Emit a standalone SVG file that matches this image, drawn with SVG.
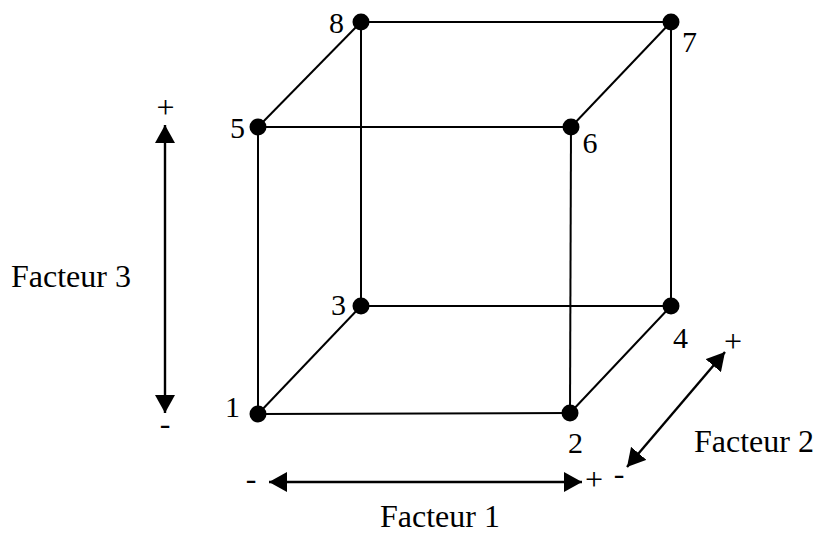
<svg xmlns="http://www.w3.org/2000/svg" width="817" height="534" viewBox="0 0 817 534">
  <style>
    .edge { stroke: #000; stroke-width: 2; fill: none; }
    .axis { stroke: #000; stroke-width: 2.4; fill: none; }
    .pt { fill: #000; }
    text { font-family: "Liberation Serif", "Times New Roman", serif; font-size: 30px; fill: #000; }
    .lbl { font-size: 32px; }
    .sign { font-size: 32px; }
  </style>
  <defs>
    <marker id="head" markerUnits="userSpaceOnUse" markerWidth="20" markerHeight="20" viewBox="0 0 20 20" refX="18" refY="10" orient="auto-start-reverse">
      <path d="M0,0 L18,10 L0,20 Z" fill="#000"/>
    </marker>
  </defs>

  <!-- cube edges -->
  <g id="edges">
    <line class="edge" x1="258" y1="127" x2="571" y2="127"/>
    <line class="edge" x1="361" y1="22" x2="671" y2="22"/>
    <line class="edge" x1="258" y1="414" x2="570" y2="413"/>
    <line class="edge" x1="361" y1="306" x2="671" y2="306"/>
    <line class="edge" x1="258" y1="127" x2="258" y2="414"/>
    <line class="edge" x1="361" y1="22" x2="361" y2="306"/>
    <line class="edge" x1="671" y1="22" x2="671" y2="306"/>
    <line class="edge" x1="571" y1="127" x2="570" y2="413"/>
    <line class="edge" x1="258" y1="127" x2="361" y2="22"/>
    <line class="edge" x1="571" y1="127" x2="671" y2="22"/>
    <line class="edge" x1="258" y1="414" x2="361" y2="306"/>
    <line class="edge" x1="570" y1="413" x2="671" y2="306"/>
  </g>

  <!-- cube vertices -->
  <g id="n1"><circle class="pt" cx="258" cy="414" r="8.5"/><text x="240" y="417" text-anchor="end">1</text></g>
  <g id="n2"><circle class="pt" cx="570" cy="413" r="8.5"/><text x="575.5" y="453" text-anchor="middle">2</text></g>
  <g id="n3"><circle class="pt" cx="361" cy="306" r="8.5"/><text x="346" y="315" text-anchor="end">3</text></g>
  <g id="n4"><circle class="pt" cx="671" cy="306" r="8.5"/><text x="680.5" y="348" text-anchor="middle">4</text></g>
  <g id="n5"><circle class="pt" cx="258" cy="127" r="8.5"/><text x="245" y="138" text-anchor="end">5</text></g>
  <g id="n6"><circle class="pt" cx="571" cy="127" r="8.5"/><text x="590" y="153" text-anchor="middle">6</text></g>
  <g id="n7"><circle class="pt" cx="671" cy="22" r="8.5"/><text x="689.5" y="52" text-anchor="middle">7</text></g>
  <g id="n8"><circle class="pt" cx="361" cy="22" r="8.5"/><text x="344" y="33" text-anchor="end">8</text></g>

  <!-- factor axes -->
  <g id="axes">
    <line class="axis" x1="165" y1="125" x2="165" y2="413" marker-start="url(#head)" marker-end="url(#head)"/>
    <line class="axis" x1="269" y1="482" x2="582" y2="482" marker-start="url(#head)" marker-end="url(#head)"/>
    <line class="axis" x1="627" y1="467" x2="725" y2="352" marker-start="url(#head)" marker-end="url(#head)"/>
  </g>

  <g id="axis3-labels">
    <text class="sign" x="165.5" y="118" text-anchor="middle">+</text>
    <text class="sign" x="165" y="434" text-anchor="middle">-</text>
    <text class="lbl" x="11" y="287">Facteur 3</text>
  </g>
  <g id="axis1-labels">
    <text class="sign" x="251" y="489" text-anchor="middle">-</text>
    <text class="sign" x="594" y="490" text-anchor="middle">+</text>
    <text class="lbl" x="380" y="527">Facteur 1</text>
  </g>
  <g id="axis2-labels">
    <text class="sign" x="619" y="484" text-anchor="middle">-</text>
    <text class="sign" x="733" y="352" text-anchor="middle">+</text>
    <text class="lbl" x="694" y="452">Facteur 2</text>
  </g>
</svg>
